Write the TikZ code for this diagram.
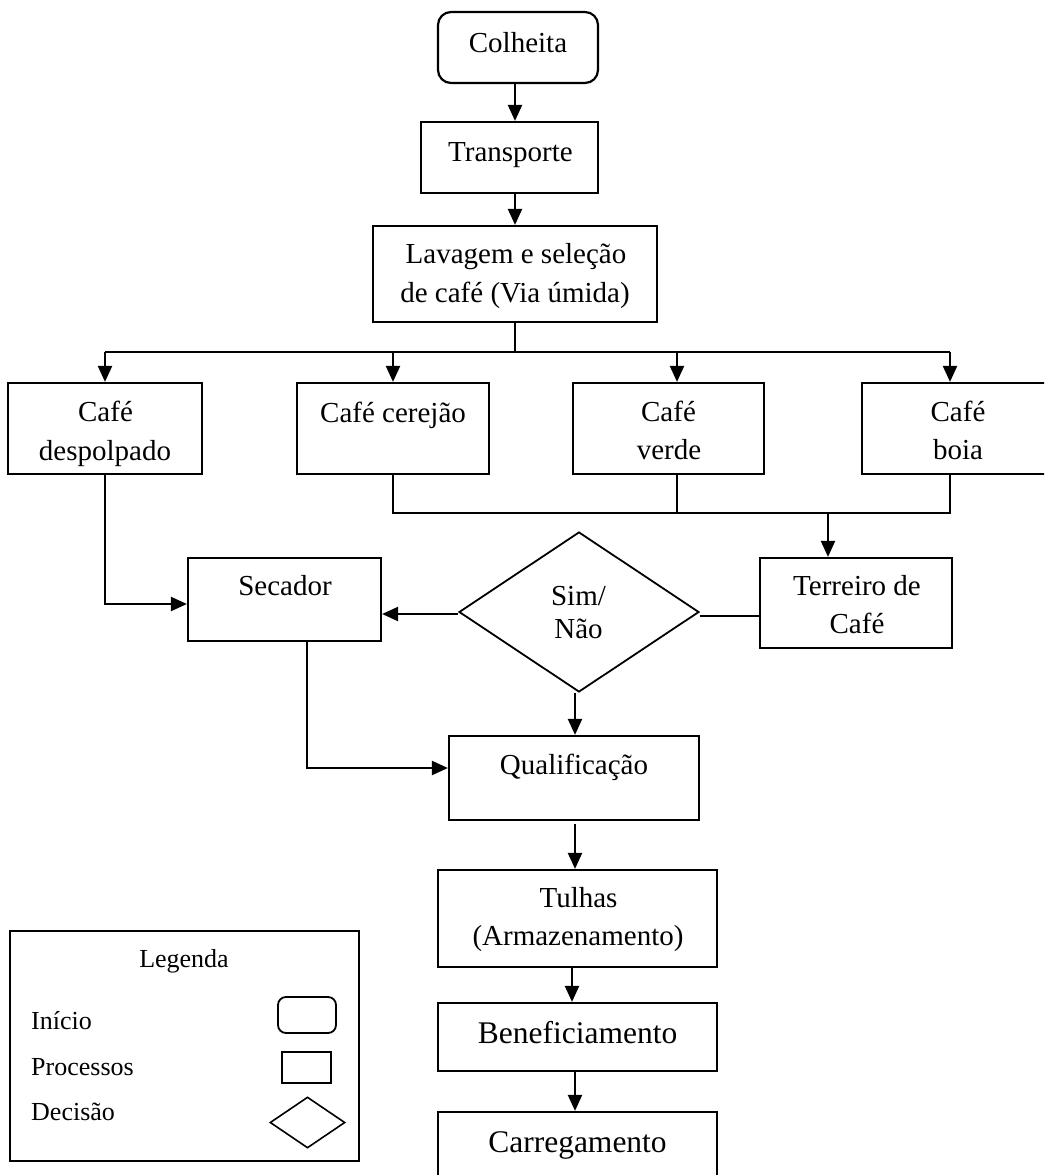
\documentclass[tikz,border=0pt]{standalone}
\usepackage{fontspec}
\setmainfont{Liberation Serif}
\usetikzlibrary{arrows.meta,shapes.geometric}
\tikzset{
  box/.style={draw, line width=2.2pt, inner sep=0pt, rectangle},
  lbl/.style={inner sep=0pt, font=\fontsize{29}{35}\selectfont, anchor=base},
  big/.style={inner sep=0pt, font=\fontsize{31.5}{38}\selectfont, anchor=base},
  leg/.style={inner sep=0pt, font=\fontsize{26}{31}\selectfont, anchor=base},
  legl/.style={leg, anchor=base west},
  conn/.style={line width=2.2pt},
  arr/.style={line width=2.2pt, -{Triangle[length=16pt,width=14pt]}},
}
\begin{document}
\begin{tikzpicture}[x=1pt,y=-1pt]
\useasboundingbox (0,0) rectangle (1044,1175);
\fill[white] (0,0) rectangle (1044,1175);
\clip (0,0) rectangle (1044,1175);

% boxes
\node[box, rounded corners=13pt, minimum width=160pt, minimum height=71pt] (colh) at (518,47.5) {};
\node[box, minimum width=177pt, minimum height=71pt] (trans) at (509.5,157.5) {};
\node[box, minimum width=284pt, minimum height=96pt] (lav) at (515,274) {};
\node[box, minimum width=194pt, minimum height=91pt] (dep) at (105,428.5) {};
\node[box, minimum width=192pt, minimum height=91pt] (cer) at (393,428.5) {};
\node[box, minimum width=191pt, minimum height=91pt] (ver) at (668.5,428.5) {};
\node[box, minimum width=192pt, minimum height=91pt] (boi) at (958,428.5) {};
\node[box, minimum width=193pt, minimum height=83pt] (sec) at (284.5,599.5) {};
\node[draw, line width=1.8pt, diamond, inner sep=0pt, minimum width=240pt, minimum height=160pt] (dia) at (579,612) {};
\node[box, minimum width=192pt, minimum height=90pt] (ter) at (856,603) {};
\node[box, minimum width=250pt, minimum height=84pt] (qual) at (574,778) {};
\node[box, minimum width=279pt, minimum height=97pt] (tul) at (577.5,918.5) {};
\node[box, minimum width=279pt, minimum height=68pt] (ben) at (577.5,1037) {};
\node[box, minimum width=279pt, minimum height=80pt] (car) at (577.5,1152) {};

% texts
\node[lbl] (colhT) at (518,52) {Colheita};
\node[lbl] (transT) at (510.5,161) {Transporte};
\node[lbl] (lavT1) at (516,263) {Lavagem e seleção};
\node[lbl] (lavT2) at (515,302) {de café (Via úmida)};
\node[lbl] (depT1) at (105.5,421) {Café};
\node[lbl] (depT2) at (105,460) {despolpado};
\node[lbl] (cerT) at (393,422) {Café cerejão};
\node[lbl] (verT1) at (668.5,421) {Café};
\node[lbl] (verT2) at (669,459) {verde};
\node[lbl] (boiT1) at (958,421) {Café};
\node[lbl] (boiT2) at (958,459) {boia};
\node[lbl] (secT) at (285,595) {Secador};
\node[lbl] (diaT1) at (578.5,605) {Sim/};
\node[lbl] (diaT2) at (578.5,638) {Não};
\node[lbl] (terT1) at (857,595) {Terreiro de};
\node[lbl] (terT2) at (857,633) {Café};
\node[lbl] (qualT) at (574,774) {Qualificação};
\node[lbl] (tulT1) at (578.5,907) {Tulhas};
\node[lbl] (tulT2) at (578,945) {(Armazenamento)};
\node[big] (benT) at (577.5,1043) {Beneficiamento};
\node[big] (carT) at (577.5,1152) {Carregamento};

% connectors
\draw[arr] ([xshift=-3pt]colh.south) -- ([xshift=-3pt]colh.south |- trans.north);
\draw[arr] ([xshift=5.5pt]trans.south) -- ([xshift=5.5pt]trans.south |- lav.north);
\coordinate (bus) at (515,352);
\draw[conn] (lav.south) -- (bus);
\draw[conn] (dep.north |- bus) -- ([xshift=-8pt]boi.north |- bus);
\draw[arr] (dep.north |- bus) -- (dep.north);
\draw[arr] (cer.north |- bus) -- (cer.north);
\draw[arr] ([xshift=8.5pt]ver.north |- bus) -- ([xshift=8.5pt]ver.north);
\draw[arr] ([xshift=-8pt]boi.north |- bus) -- ([xshift=-8pt]boi.north);

\coordinate (bus2) at (828,513);
\draw[conn] (cer.south) -- (cer.south |- bus2) -- ([xshift=-8pt]boi.south |- bus2) -- ([xshift=-8pt]boi.south);
\draw[conn] ([xshift=8.5pt]ver.south) -- ([xshift=8.5pt]ver.south |- bus2);
\draw[arr] (bus2) -- (bus2 |- ter.north);

\draw[arr] (dep.south) |- ([yshift=-4.5pt]sec.west);
\draw[arr] ([yshift=-2pt]dia.west) -- ([yshift=-2pt]dia.west -| sec.east);
\draw[conn] ([yshift=-4pt]dia.east) -- ([yshift=-4pt]dia.east -| ter.west);
\draw[arr] ([xshift=-4pt]dia.south) -- ([xshift=-4pt]dia.south |- qual.north);
\draw[arr] ([xshift=22.5pt]sec.south) |- ([yshift=10pt]qual.west);
\draw[arr, shorten <=3pt] ([xshift=1pt]qual.south) -- ([xshift=1pt]qual.south |- tul.north);
\draw[arr] ([xshift=-5.5pt]tul.south) -- ([xshift=-5.5pt]tul.south |- ben.north);
\draw[arr] ([xshift=-2.5pt]ben.south) -- ([xshift=-2.5pt]ben.south |- car.north);

% legend
\node[box, minimum width=349pt, minimum height=230pt] (legbox) at (184.5,1046) {};
\node[leg] (legT) at (184,967) {Legenda};
\node[legl] (legIni) at (31,1029) {Início};
\node[legl] (legProc) at (31,1075) {Processos};
\node[legl] (legDec) at (31,1120) {Decisão};
\node[draw, line width=1.8pt, rounded corners=8pt, inner sep=0pt, minimum width=58pt, minimum height=36pt] (legR) at (307,1015) {};
\node[draw, line width=1.8pt, inner sep=0pt, minimum width=49pt, minimum height=31pt] (legP) at (306.5,1067.5) {};
\node[draw, line width=1.6pt, diamond, inner sep=0pt, minimum width=75pt, minimum height=51pt] (legD) at (307.5,1122.5) {};
\end{tikzpicture}
\end{document}
